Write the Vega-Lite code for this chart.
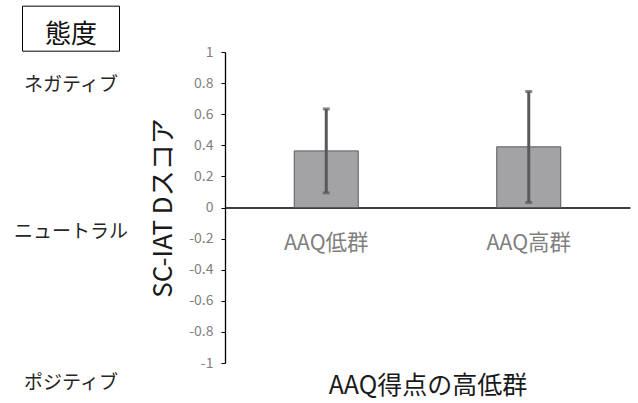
{
  "$schema": "https://vega.github.io/schema/vega-lite/v6.json",
  "padding": {"left": 0, "top": 4, "right": 5, "bottom": 4},
  "background": "white",
  "config": {
    "view": {"stroke": null},
    "font": "Noto Sans CJK JP",
    "text": {"font": "Noto Sans CJK JP"}
  },
  "bounds": "flush",
  "spacing": 83,
  "datasets": {
    "scores": [
      {"group": "AAQ低群", "score": 0.364, "lo": 0.094, "hi": 0.634},
      {"group": "AAQ高群", "score": 0.39, "lo": 0.032, "hi": 0.746}
    ],
    "notes": [
      {"label": "ネガティブ", "pos": 0.79},
      {"label": "ニュートラル", "pos": -0.16},
      {"label": "ポジティブ", "pos": -1.13}
    ],
    "header": [
      {"label": "態度", "pos": 1.15}
    ]
  },
  "hconcat": [
    {
      "width": 142,
      "height": 311,
      "layer": [
        {
          "data": {"name": "notes"},
          "mark": {"type": "text", "fontSize": 19, "color": "#262626"},
          "encoding": {
            "y": {"field": "pos", "type": "quantitative", "scale": {"domain": [-1, 1]}, "axis": null},
            "text": {"field": "label"}
          }
        },
        {
          "data": {"name": "header"},
          "mark": {"type": "point", "shape": "M-1,-0.464H1V0.464H-1Z", "filled": false, "color": "#000", "strokeWidth": 1, "size": 9409, "opacity": 1},
          "encoding": {
            "y": {"field": "pos", "type": "quantitative"}
          }
        },
        {
          "data": {"name": "header"},
          "mark": {"type": "text", "fontSize": 26, "color": "#111", "dy": 6},
          "encoding": {
            "y": {"field": "pos", "type": "quantitative"},
            "text": {"field": "label"}
          }
        }
      ]
    },
    {
      "width": 405,
      "height": 311,
      "data": {"name": "scores"},
      "encoding": {
        "x": {
          "field": "group", "type": "nominal", "sort": null,
          "scale": {"paddingInner": 0.684, "paddingOuter": 0.342},
          "axis": {
            "orient": "bottom",
            "offset": -155.5,
            "title": "AAQ得点の高低群",
            "titleFontSize": 25,
            "titleFontWeight": "normal",
            "titleColor": "#1a1a1a",
            "titlePadding": 119,
            "labelAngle": 0,
            "labelFontSize": 21.5,
            "labelColor": "#7f7f7f",
            "labelPadding": 25,
            "ticks": false,
            "domainColor": "#000",
            "domainWidth": 1.3
          }
        }
      },
      "layer": [
        {
          "mark": {"type": "bar", "color": "#a3a3a6", "stroke": "#595959", "strokeWidth": 1},
          "encoding": {
            "y": {
              "field": "score", "type": "quantitative",
              "scale": {"domain": [-1, 1]},
              "title": "SC-IAT Dスコア",
              "axis": {
                "values": [-1, -0.8, -0.6, -0.4, -0.2, 0, 0.2, 0.4, 0.6, 0.8, 1],
                "labelExpr": "'' + datum.value",
                "labelOverlap": false,
                "grid": false,
                "domainColor": "#000",
                "domainWidth": 1.3,
                "tickColor": "#000",
                "tickSize": 4,
                "labelColor": "#7f7f7f",
                "labelFontSize": 14,
                "labelPadding": 8,
                "titleFontSize": 26,
                "titleFontWeight": "normal",
                "titleColor": "#1a1a1a",
                "titlePadding": 12
              }
            }
          }
        },
        {
          "mark": {"type": "errorbar", "color": "#595959", "ticks": {"size": 7, "thickness": 3, "color": "#595959"}, "rule": {"strokeWidth": 3}},
          "encoding": {
            "y": {
              "field": "lo", "type": "quantitative",
              "title": "SC-IAT Dスコア",
              "axis": {
                "values": [-1, -0.8, -0.6, -0.4, -0.2, 0, 0.2, 0.4, 0.6, 0.8, 1],
                "labelExpr": "'' + datum.value",
                "labelOverlap": false,
                "grid": false,
                "domainColor": "#000",
                "domainWidth": 1.3,
                "tickColor": "#000",
                "tickSize": 4,
                "labelColor": "#7f7f7f",
                "labelFontSize": 14,
                "labelPadding": 8,
                "titleFontSize": 26,
                "titleFontWeight": "normal",
                "titleColor": "#1a1a1a",
                "titlePadding": 12
              }
            },
            "y2": {"field": "hi"}
          }
        }
      ]
    }
  ]
}
